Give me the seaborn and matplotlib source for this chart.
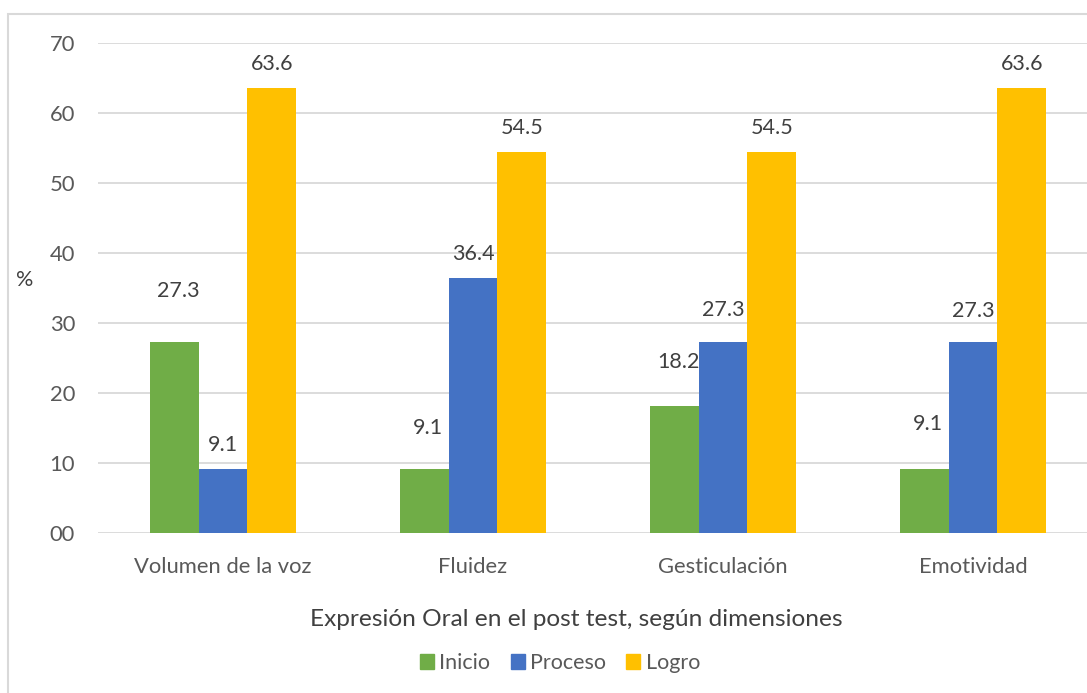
import pandas as pd
import matplotlib.pyplot as plt
import seaborn as sns
from matplotlib.patches import Rectangle

sns.set_theme(style="white")
plt.rcParams["font.family"] = ["Lato", "DejaVu Sans"]

# ==========================================================
# DATOS
# ==========================================================
dimensiones = ["Volumen de la voz", "Fluidez", "Gesticulación", "Emotividad"]
niveles = ["Inicio", "Proceso", "Logro"]
inicio = [27.3, 9.1, 18.2, 9.1]
proceso = [9.1, 36.4, 27.3, 27.3]
logro = [63.6, 54.5, 54.5, 63.6]
y_ticks = [0, 10, 20, 30, 40, 50, 60, 70]

colores = ["#70AD47", "#4472C4", "#FFC000"]
gris_texto = "#595959"
gris_linea = "#D9D9D9"

df = pd.DataFrame({
    "dimension": dimensiones * 3,
    "nivel": [n for n in niveles for _ in dimensiones],
    "porcentaje": inicio + proceso + logro,
})

# desplazamiento de las etiquetas (pixeles) como en el original
offset_default = (0, 24)
offset_extra = {
    ("Inicio", 0): (4, 51),
    ("Inicio", 1): (4, 41),
    ("Inicio", 2): (4, 44),
    ("Inicio", 3): (4, 45),
    ("Proceso", 2): (0, 32),
    ("Proceso", 3): (0, 31),
}

# ==========================================================
# GRÁFICO
# ==========================================================
fig = plt.figure(figsize=(10.87, 6.93), dpi=100)
ax = fig.add_axes([98 / 1087, 1 - 533 / 693, 1000 / 1087, 490 / 693])

sns.barplot(
    data=df, x="dimension", y="porcentaje", hue="nivel",
    order=dimensiones, hue_order=niveles, palette=colores,
    width=0.585, saturation=1, errorbar=None, ax=ax, legend=False,
    linewidth=0,
)

for nivel, cont in zip(niveles, ax.containers):
    for i, bar in enumerate(cont):
        dx, dy = offset_extra.get((nivel, i), offset_default)
        ax.annotate(
            f"{bar.get_height():.1f}",
            (bar.get_x() + bar.get_width() / 2, bar.get_height()),
            xytext=(dx, dy), textcoords="offset pixels",
            ha="center", va="center", fontsize=15.5, color="#404040",
        )

ax.set_xlim(-0.5, 3.5)
ax.set_ylim(0, 70)
ax.set_yticks(y_ticks)
ax.set_yticklabels([f"{v:02d}" for v in y_ticks])
ax.yaxis.grid(True, color=gris_linea, linewidth=1.3)
ax.set_axisbelow(True)
for s in ax.spines.values():
    s.set_visible(False)
ax.tick_params(axis="both", length=0, labelsize=15.8, labelcolor=gris_texto)
ax.tick_params(axis="y", pad=16.5)
ax.tick_params(axis="x", pad=17)

ax.set_xlabel("Expresión Oral en el post test, según dimensiones",
              fontsize=17.6, color="#404040", va="center")
ax.xaxis.set_label_coords(478 / 1000, -(620 - 533) / 490)
ax.set_ylabel("%", fontsize=15.5, color="#404040", rotation=0, ha="center", va="center")
ax.yaxis.set_label_coords(-(98 - 25) / 1000, (533 - 280) / 490)

handles = [plt.Rectangle((0, 0), 1, 1, color=c) for c in colores]
fig.legend(handles, niveles, loc="center", bbox_to_anchor=(560 / 1087, 1 - 663 / 693),
           ncol=3, frameon=False, fontsize=15.5, labelcolor=gris_texto,
           handlelength=0.65, handleheight=0.65, handletextpad=0.25, columnspacing=0.95)

# borde del área del gráfico
fig.patches.append(Rectangle((8 / 1087, -0.1), 1.2, 1.1 - 14 / 693,
                             transform=fig.transFigure, fill=False,
                             edgecolor=gris_linea, linewidth=1.5))

fig.savefig("out.png", dpi=100)
